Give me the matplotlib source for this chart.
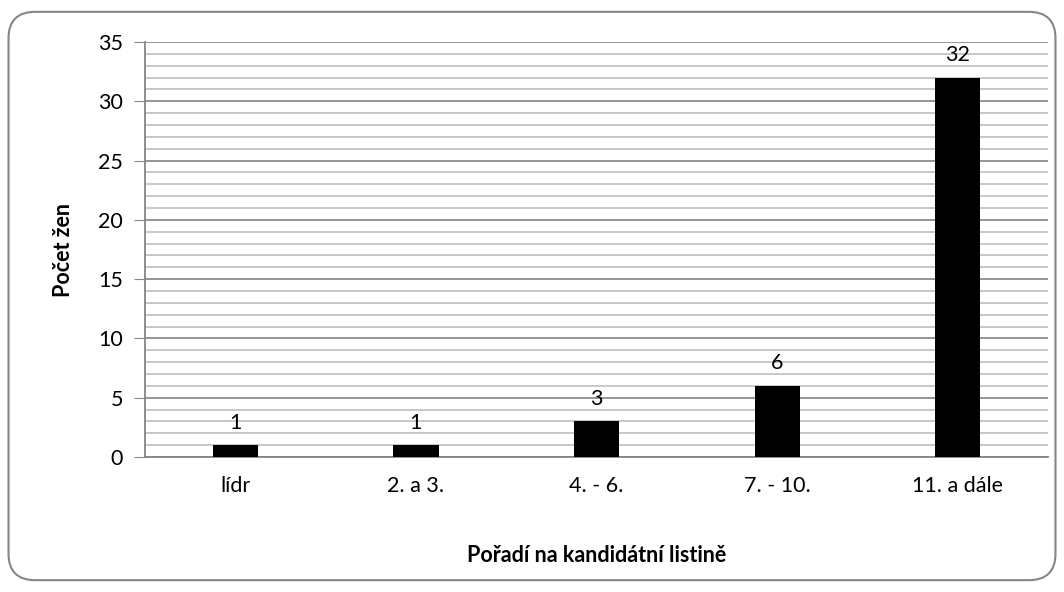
import matplotlib.pyplot as plt
from matplotlib.patches import FancyBboxPatch
from matplotlib.ticker import MultipleLocator

categories = ["lídr", "2. a 3.", "4. - 6.", "7. - 10.", "11. a dále"]
counts = [1, 1, 3, 6, 32]

plt.rcParams['font.family'] = ['Lato', 'DejaVu Sans']

fig = plt.figure(figsize=(10.64, 5.92), dpi=100)
ax = fig.add_axes([0.1363, 0.228, 0.8487, 0.701])

# rounded outer frame like Excel chart area
frame = FancyBboxPatch((0.008, 0.02), 0.984, 0.96, boxstyle="round,pad=0,rounding_size=0.025",
                       transform=fig.transFigure, facecolor='none', edgecolor='#868686',
                       linewidth=1.5, mutation_aspect=1064/592)
fig.patches.append(frame)

x = range(len(categories))
bars = ax.bar(x, counts, width=0.25, color='black', zorder=3)
for xi, v in zip(x, counts):
    ax.annotate(str(v), (xi, v), xytext=(0, 9), textcoords='offset points',
                ha='center', va='bottom', fontsize=15.5)

ax.set_xlim(-0.5, len(categories) - 0.5)
ax.set_ylim(0, 35)
ax.yaxis.set_major_locator(MultipleLocator(5))
ax.yaxis.set_minor_locator(MultipleLocator(1))
ax.set_xticks(list(x))
ax.set_xticklabels(categories)

ax.grid(which='major', axis='y', color='#8c8c8c', linewidth=1.3, zorder=0)
ax.grid(which='minor', axis='y', color='#c4c4c4', linewidth=1.3, zorder=0)
ax.set_axisbelow(True)

for s in ['top', 'right']:
    ax.spines[s].set_visible(False)
for s in ['left', 'bottom']:
    ax.spines[s].set_color('#868686')
    ax.spines[s].set_linewidth(1.3)

ax.tick_params(axis='y', which='major', length=8, color='#868686', labelsize=15.5, pad=8)
ax.tick_params(axis='y', which='minor', length=0)
ax.tick_params(axis='x', length=0, labelsize=15.5, pad=14)

ax.set_ylabel("Počet žen", fontsize=15.5, fontweight='bold', labelpad=17)
ax.set_xlabel("Pořadí na kandidátní listině", fontsize=15.5, fontweight='bold', labelpad=35)

fig.savefig("out.png", dpi=100)
